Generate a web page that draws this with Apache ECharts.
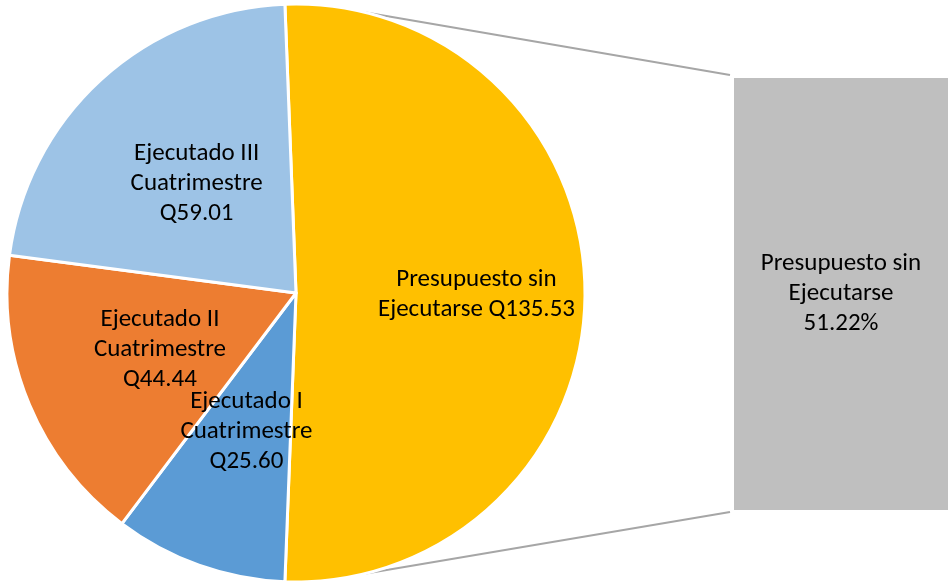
<!DOCTYPE html>
<html>
<head>
<meta charset="utf-8">
<script src="https://cdn.jsdelivr.net/npm/echarts@6/dist/echarts.min.js"></script>
<style>
  html, body { margin: 0; padding: 0; background: #fff; }
  #chart { width: 948px; height: 586px; }
</style>
</head>
<body>
<div id="chart"></div>
<script>
// datos del gráfico
const names = [
  "Presupuesto sin\nEjecutarse",
  "Ejecutado I\nCuatrimestre",
  "Ejecutado II\nCuatrimestre",
  "Ejecutado III\nCuatrimestre"
];
const values = [135.53, 25.6, 44.44, 59.01];
const colors = ["#FFC000", "#5B9BD5", "#ED7D31", "#9DC3E6"];

const total = values.reduce((a, b) => a + b, 0);
const share = values[0] / total;

const cx = 296, cy = 293, R = 289;
const startAngle = 90 + share * 180 - 90; // centra la porción principal a la derecha
const barLeft = 734, barTop = 78, barW = 214, barH = 432;

const fontFam = "Carlito, 'Liberation Sans Narrow', 'Open Sans', sans-serif";

const chart = echarts.init(document.getElementById("chart"));

// las líneas de conexión salen del borde del círculo
const ang = 14 * Math.PI / 180;
const p0 = [cx + R * Math.sin(ang), cy - R * Math.cos(ang)];
const p1 = [cx + R * Math.sin(ang), cy + R * Math.cos(ang)];

const option = {
  animation: false,
  textStyle: { fontFamily: fontFam },
  graphic: [
    {
      type: "line", z: -1,
      shape: { x1: p0[0], y1: p0[1], x2: barLeft - 4, y2: barTop - 3 },
      style: { stroke: "#A6A6A6", lineWidth: 2 }
    },
    {
      type: "line", z: -1,
      shape: { x1: p1[0], y1: p1[1], x2: barLeft - 4, y2: barTop + barH + 2 },
      style: { stroke: "#A6A6A6", lineWidth: 2 }
    }
  ],
  grid: { left: barLeft, top: barTop, width: barW, height: barH },
  xAxis: { type: "category", data: ["sin"], show: false },
  yAxis: { type: "value", min: 0, max: values[0], show: false },
  series: [
    {
      type: "pie",
      z: 3,
      center: [cx, cy],
      radius: [0, R],
      startAngle: startAngle,
      clockwise: true,
      avoidLabelOverlap: false,
      labelLayout: { hideOverlap: false },
      itemStyle: { borderColor: "#fff", borderWidth: 3 },
      label: {
        show: true,
        position: "inside",
        color: "#000",
        fontSize: 25,
        lineHeight: 30,
        fontFamily: fontFam,
        formatter: (p) => {
          if (p.dataIndex === 0) return "Presupuesto sin\nEjecutarse Q" + p.value.toFixed(2);
          return p.name + "\nQ" + p.value.toFixed(2);
        }
      },
      labelLine: { show: false },
      data: names.map((n, i) => ({
        name: n,
        value: values[i],
        itemStyle: { color: colors[i] },
        label: i === 0 ? { offset: [33, 2] } : {}
      }))
    },
    {
      type: "bar",
      barWidth: "100%",
      data: [values[0]],
      itemStyle: { color: "#BFBFBF" },
      label: {
        show: true,
        position: "inside",
        color: "#000",
        fontSize: 25,
        lineHeight: 30,
        fontFamily: fontFam,
        formatter: () => names[0] + "\n" + (share * 100).toFixed(2) + "%"
      }
    }
  ]
};
chart.setOption(option);
</script>
</body>
</html>
